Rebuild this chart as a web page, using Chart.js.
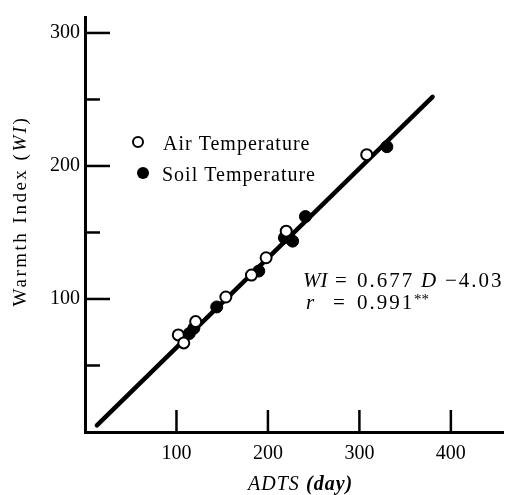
<!DOCTYPE html>
<html>
<head>
<meta charset="utf-8">
<script src="https://cdn.jsdelivr.net/npm/chart.js@4/dist/chart.umd.min.js"></script>
<style>
  html, body { margin: 0; padding: 0; background: #fff; }
  #wrap { width: 511px; height: 495px; }
</style>
</head>
<body>
<div id="wrap"><canvas id="myChart" width="511" height="495"></canvas></div>
<script>
// values
const airD = [102, 108, 121, 154, 182, 198, 220, 308];
const airWI = [73, 67, 83, 101.5, 118, 131, 151, 208.5];
const soilD = [114, 119, 144, 190, 218, 227, 241, 330];
const soilWI = [74, 78, 94, 121, 146, 143.5, 162, 214.5];
const fitD = [13, 380];
const fitWI = [5, 252];

const xTicks = [100, 200, 300, 400];
const yTicks = [100, 200, 300];
const yMinorTicks = [50, 150, 250];

const serif = '"Liberation Serif", "DejaVu Serif", serif';

function toPoints(xs, ys) {
    return xs.map(function(x, i) { return {x: x, y: ys[i]}; });
}

// draws a row of text pieces, each with its own font
function drawPieces(ctx, pieces, y) {
    pieces.forEach(function(p) {
        ctx.font = p.font;
        ctx.letterSpacing = p.spacing || '0px';
        ctx.fillText(p.text, p.x, y + (p.dy || 0));
    });
    ctx.letterSpacing = '0px';
}

const decorations = {
    id: 'decorations',
    afterDraw: function(chart) {
        const ctx = chart.ctx;
        const xs = chart.scales.x, ys = chart.scales.y;
        const area = chart.chartArea;
        ctx.save();
        ctx.strokeStyle = '#000';
        ctx.fillStyle = '#000';
        ctx.lineWidth = 2.5;
        // inward ticks
        xTicks.forEach(function(v) {
            const px = xs.getPixelForValue(v);
            ctx.beginPath(); ctx.moveTo(px, area.bottom); ctx.lineTo(px, area.bottom - 22); ctx.stroke();
        });
        yTicks.forEach(function(v) {
            const py = ys.getPixelForValue(v);
            ctx.beginPath(); ctx.moveTo(area.left, py); ctx.lineTo(area.left + 25, py); ctx.stroke();
        });
        yMinorTicks.forEach(function(v) {
            const py = ys.getPixelForValue(v);
            ctx.beginPath(); ctx.moveTo(area.left, py); ctx.lineTo(area.left + 15, py); ctx.stroke();
        });

        // legend
        ctx.lineWidth = 2;
        ctx.beginPath(); ctx.arc(138, 142, 5, 0, Math.PI * 2);
        ctx.fillStyle = '#fff'; ctx.fill(); ctx.stroke();
        ctx.fillStyle = '#000';
        ctx.beginPath(); ctx.arc(143, 173, 6, 0, Math.PI * 2); ctx.fill();
        ctx.textBaseline = 'alphabetic';
        ctx.textAlign = 'left';
        drawPieces(ctx, [{text: 'Air Temperature', x: 163, font: '20px ' + serif, spacing: '1px'}], 150);
        drawPieces(ctx, [{text: 'Soil Temperature', x: 162, font: '20px ' + serif, spacing: '1px'}], 181);

        // regression equation
        const up = '21px ' + serif, it = 'italic 21px ' + serif;
        drawPieces(ctx, [
            {text: 'WI', x: 303, font: it},
            {text: '=', x: 335, font: up},
            {text: '0.677', x: 357, font: up, spacing: '2px'},
            {text: 'D', x: 421, font: it},
            {text: '\u22124.03', x: 445, font: up, spacing: '2px'}
        ], 287);
        drawPieces(ctx, [
            {text: 'r', x: 306, font: it},
            {text: '=', x: 333, font: up},
            {text: '0.991', x: 357, font: up, spacing: '2px'},
            {text: '**', x: 414, font: '15px ' + serif, dy: -5}
        ], 309);

        // axis titles
        drawPieces(ctx, [
            {text: 'ADTS', x: 248, font: 'italic 20px ' + serif, spacing: '1px'},
            {text: '(day)', x: 306, font: 'italic bold 20px ' + serif, spacing: '1px'}
        ], 490);
        ctx.translate(26, 211);
        ctx.rotate(-Math.PI / 2);
        ctx.textAlign = 'left';
        ctx.font = '19px ' + serif;
        ctx.letterSpacing = '2.5px';
        const a = 'Warmth Index (';
        const b = 'WI';
        const wa = ctx.measureText(a).width;
        ctx.font = 'italic 19px ' + serif;
        const wb = ctx.measureText(b).width;
        ctx.font = '19px ' + serif;
        const wc = ctx.measureText(')').width;
        let x0 = -(wa + wb + wc) / 2;
        ctx.fillText(a, x0, 0);
        ctx.font = 'italic 19px ' + serif;
        ctx.fillText(b, x0 + wa, 0);
        ctx.font = '19px ' + serif;
        ctx.fillText(')', x0 + wa + wb, 0);
        ctx.restore();
    }
};

window.onload = function() {
    const ctx = document.getElementById('myChart');
    new Chart(ctx, {
        type: 'scatter',
        data: {
            datasets: [
                {
                    label: 'Air Temperature',
                    data: toPoints(airD, airWI),
                    pointRadius: 5.5,
                    pointBackgroundColor: '#fff',
                    pointBorderColor: '#000',
                    pointBorderWidth: 2
                },
                {
                    label: 'Soil Temperature',
                    data: toPoints(soilD, soilWI),
                    pointRadius: 6,
                    pointBackgroundColor: '#000',
                    pointBorderColor: '#000',
                    pointBorderWidth: 1
                },
                {
                    type: 'line',
                    label: 'fit',
                    data: toPoints(fitD, fitWI),
                    borderColor: '#000',
                    borderWidth: 4.5,
                    borderCapStyle: 'round',
                    pointRadius: 0,
                    fill: false
                }
            ]
        },
        options: {
            responsive: false,
            animation: false,
            layout: { padding: { top: 11, right: 8, left: 0, bottom: 0 } },
            plugins: { legend: { display: false }, tooltip: { enabled: false } },
            scales: {
                x: {
                    type: 'linear',
                    min: 0,
                    max: 457,
                    grid: { display: false, drawTicks: false },
                    border: { display: true, color: '#000', width: 3 },
                    ticks: { color: '#000', padding: 10, font: { family: serif, size: 20 } },
                    afterBuildTicks: function(s) { s.ticks = xTicks.map(function(v) { return {value: v}; }); },
                    afterFit: function(s) { s.height = 63; }
                },
                y: {
                    type: 'linear',
                    min: 0,
                    max: 312,
                    grid: { display: false, drawTicks: false },
                    border: { display: true, color: '#000', width: 3 },
                    ticks: { color: '#000', padding: 5, font: { family: serif, size: 20 } },
                    afterBuildTicks: function(s) { s.ticks = yTicks.map(function(v) { return {value: v}; }); },
                    afterFit: function(s) { s.width = 85; }
                }
            }
        },
        plugins: [decorations]
    });
};
</script>
</body>
</html>
